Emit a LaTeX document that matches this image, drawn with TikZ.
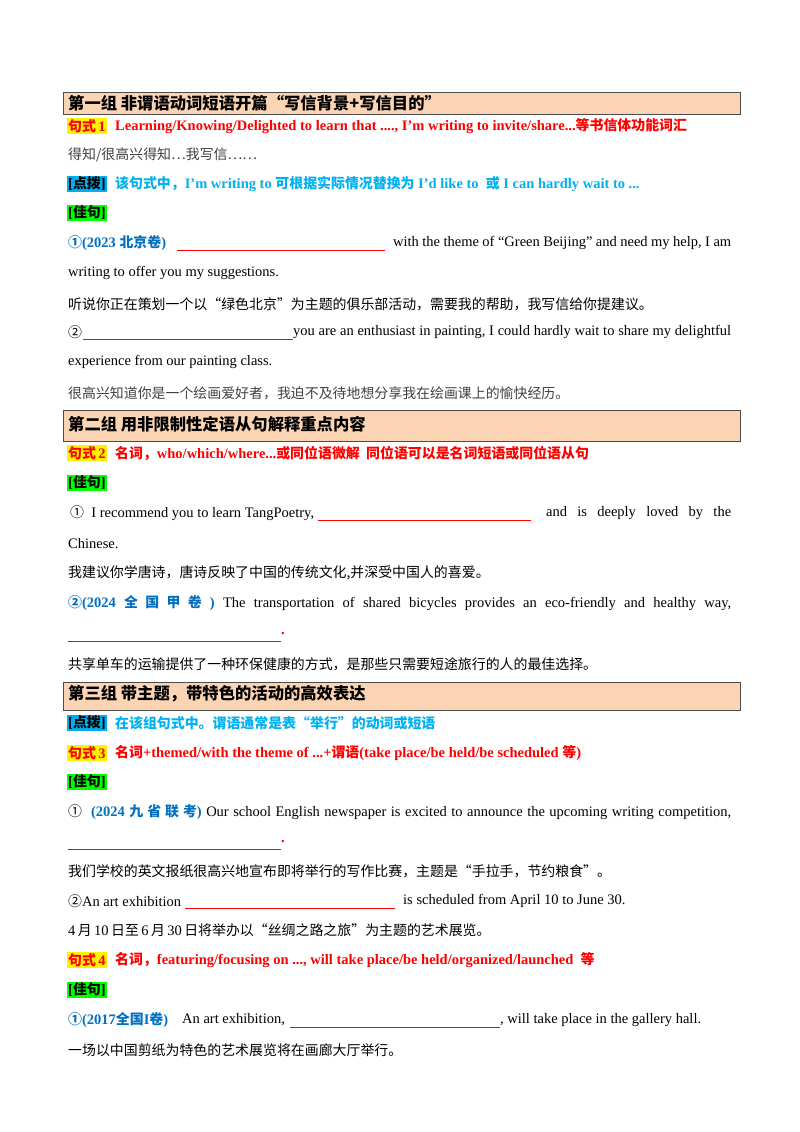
\documentclass[tikz,border=0pt]{standalone}
\usepackage{fontspec}
\setmainfont{Liberation Serif}
\newfontfamily\cjk[Scale=0.96]{Noto Sans CJK SC}
\newcommand\zh[1]{{\cjk #1}}
\definecolor{hdr}{HTML}{FBD4B4}
\definecolor{tip}{HTML}{00B0F0}
\definecolor{dblue}{HTML}{0070C0}
\definecolor{gtext}{HTML}{404040}
\tikzset{
 t/.style={anchor=west,inner sep=0pt,font=\fontsize{14.5}{16}\selectfont},
 tb/.style={anchor=west,inner sep=0pt,font=\fontsize{14.5}{16}\selectfont\bfseries},
 hbox/.style={draw=black!70,line width=0.8pt,fill=hdr},
 htext/.style={anchor=west,inner sep=0pt,font=\fontsize{17}{19}\selectfont\cjk\bfseries},
 hlY/.style={anchor=west,inner sep=1pt,fill=yellow,text=red,font=\fontsize{14.5}{16}\selectfont\bfseries},
 hlC/.style={anchor=west,inner sep=1pt,fill=cyan,text=black,font=\fontsize{14.5}{16}\selectfont\bfseries},
 hlG/.style={anchor=west,inner sep=1pt,fill=green,text=black,font=\fontsize{14.5}{16}\selectfont\bfseries},
 blank/.style={red,line width=0.8pt},
}
\begin{document}
\begin{tikzpicture}[x=1pt,y=-1pt]
\useasboundingbox (0,0) rectangle (800,1132);
% header 1
\draw[hbox] (63,92) rectangle (740,114);
\node[htext] (h1) at (68,103) {第一组\ 非谓语动词短语开篇“写信背景+写信目的”};
\node[hlY] (s1) at (67,126) {\zh{句式}\,1};
\node[tb,text=red] (s1t) at (115,126) {Learning/Knowing/Delighted to learn that ...., I'm writing to invite/share...\zh{等书信体功能词汇}};
\node[t,text=gtext] (a1) at (68,155) {\zh{得知/很高兴得知…我写信……}};
\node[hlC] (d1) at (67,184) {[\zh{点拨}]};
\node[tb,text=tip] (d1t) at (115,184) {\zh{该句式中，}I'm writing to \zh{可根据实际情况替换为} I'd like to\ \ \zh{或} I can hardly wait to ...};
\node[hlG] (j1) at (67,213) {[\zh{佳句}]};
\node[tb,text=dblue] (e1) at (68,243) {\zh{①}(2023 \zh{北京卷})};
\draw[blank] (177,250) -- (385,250);
\node[t] (e1t) at (393,243) {\makebox[338pt][s]{with the theme of “Green Beijing” and need my help, I am}};
\node[t] (e1u) at (68,273) {writing to offer you my suggestions.};
\node[t] (e1c) at (68,304) {\zh{听说你正在策划一个以“绿色北京”为主题的俱乐部活动，需要我的帮助，我写信给你提建议。}};
\node[t] (e2) at (68,332) {\zh{②}};
\draw[blank] (83,339) -- (293,339);
\node[t] (e2t) at (293,332) {\makebox[438pt][s]{you are an enthusiast in painting, I could hardly wait to share my delightful}};
\node[t] (e2u) at (68,362) {experience from our painting class.};
\node[t,text=gtext] (e2c) at (68,393) {\zh{很高兴知道你是一个绘画爱好者，我迫不及待地想分享我在绘画课上的愉快经历。}};
% header 2
\draw[hbox] (63,410) rectangle (740,441);
\node[htext] (h2) at (68,424) {第二组\ 用非限制性定语从句解释重点内容};
\node[hlY] (s2) at (67,453) {\zh{句式}\,2};
\node[tb,text=red] (s2t) at (115,453) {\zh{名词，}who/which/where...\zh{或同位语微解\ \ 同位语可以是名词短语或同位语从句}};
\node[hlG] (j2) at (67,483) {[\zh{佳句}]};
\node[t] (f1) at (70,513) {\zh{①}\ \ I recommend you to learn TangPoetry,};
\draw[blank] (318,520) -- (531,520);
\node[t] (f1t) at (546,513) {\makebox[185pt][s]{and is deeply loved by the}};
\node[t] (f1u) at (68,544) {Chinese.};
\node[t] (f1c) at (68,573) {\zh{我建议你学唐诗，唐诗反映了中国的传统文化,并深受中国人的喜爱。}};
\node[t] (f2) at (68,603) {\makebox[663pt][s]{\textcolor{dblue}{\bfseries \zh{②}(2024 \zh{全 国 甲 卷} )} The transportation of shared bicycles provides an eco-friendly and healthy way,}};
\draw[blank] (68,641) -- (281,641);
\node[tb,text=red] (f2d) at (281,634) {.};
\node[t] (f2c) at (68,664) {\zh{共享单车的运输提供了一种环保健康的方式，是那些只需要短途旅行的人的最佳选择。}};
% header 3
\draw[hbox] (63,682) rectangle (740,710);
\node[htext] (h3) at (68,694) {第三组\ 带主题，带特色的活动的高效表达};
\node[hlC] (d3) at (67,723) {[\zh{点拨}]};
\node[tb,text=tip] (d3t) at (115,723) {\zh{在该组句式中。谓语通常是表“举行”的动词或短语}};
\node[hlY] (s3) at (67,753) {\zh{句式}\,3};
\node[tb,text=red] (s3t) at (115,753) {\zh{名词}+themed/with the theme of ...+\zh{谓语}(take place/be held/be scheduled \zh{等})};
\node[hlG] (j3) at (67,782) {[\zh{佳句}]};
\node[t] (g1) at (68,812) {\makebox[663pt][s]{\zh{①}\ \ \textcolor{dblue}{\bfseries (2024 \zh{九 省 联 考})} Our school English newspaper is excited to announce the upcoming writing competition,}};
\draw[blank] (68,849) -- (281,849);
\node[tb,text=red] (g1d) at (281,842) {.};
\node[t] (g1c) at (68,871) {\zh{我们学校的英文报纸很高兴地宣布即将举行的写作比赛，主题是“手拉手，节约粮食”。}};
\node[t] (g2) at (68,901) {\zh{②}An art exhibition};
\draw[blank] (185,908) -- (395,908);
\node[t] (g2t) at (403,901) {is scheduled from April 10 to June 30.};
\node[t] (g2c) at (68,930) {4\,\zh{月}\,10\,\zh{日至}\,6\,\zh{月}\,30\,\zh{日将举办以“丝绸之路之旅”为主题的艺术展览。}};
\node[hlY] (s4) at (67,960) {\zh{句式}\,4};
\node[tb,text=red] (s4t) at (115,960) {\zh{名词，}featuring/focusing on ..., will take place/be held/organized/launched\ \ \zh{等}};
\node[hlG] (j4) at (67,990) {[\zh{佳句}]};
\node[tb,text=dblue] (k1) at (68,1020) {\zh{①}(2017\zh{全国}I\zh{卷})};
\node[t] (k1a) at (182,1020) {An art exhibition,};
\draw[blank] (290,1027) -- (500,1027);
\node[t] (k1t) at (500,1020) {, will take place in the gallery hall.};
\node[t] (k1c) at (68,1050) {\zh{一场以中国剪纸为特色的艺术展览将在画廊大厅举行。}};
\end{tikzpicture}
\end{document}
